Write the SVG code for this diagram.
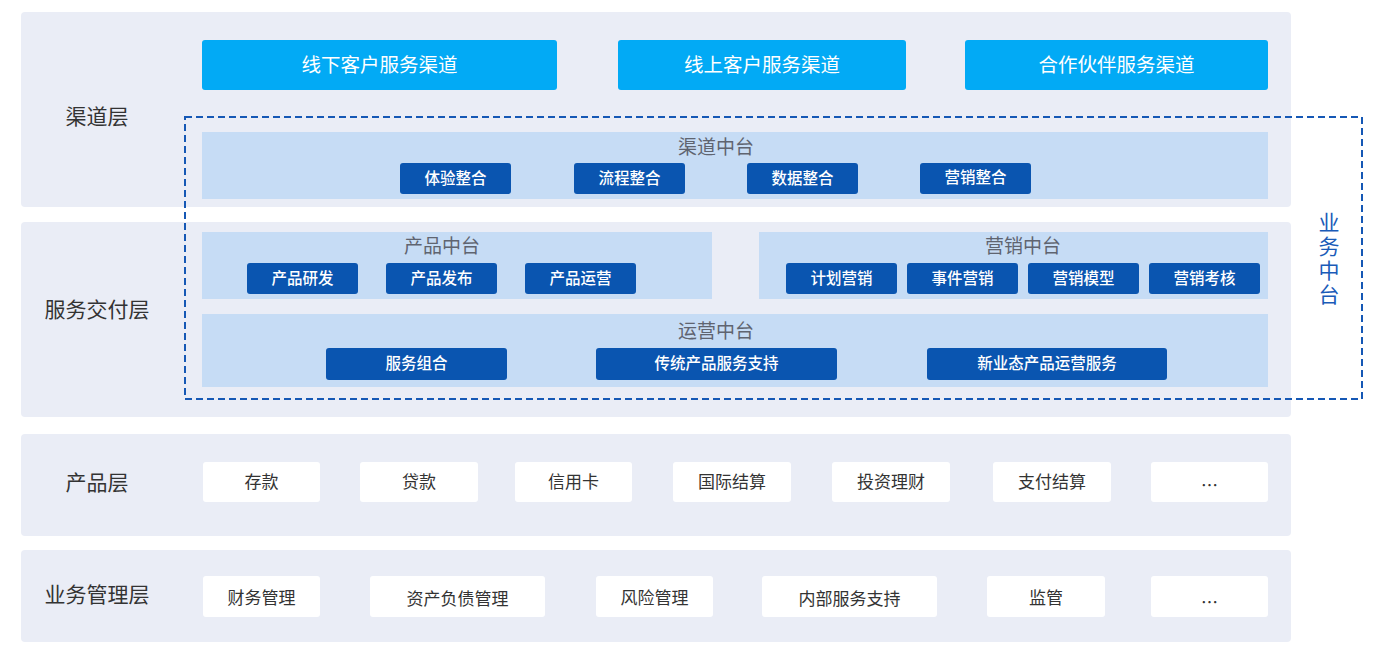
<svg xmlns="http://www.w3.org/2000/svg" width="1385" height="665" viewBox="0 0 1385 665">
<style>
text{font-family:"Noto Sans CJK SC","Noto Sans",sans-serif;text-anchor:middle;dominant-baseline:central}
.layer{fill:#EAEDF6}
.lbl{font-size:21px;fill:#333}
.chan{fill:#02AAF5}
.chant{font-size:19.5px;fill:#fff}
.panel{fill:#C6DCF5}
.ptitle{font-size:19px;fill:#5f6470}
.sub{fill:#0A55B0}
.subt{font-size:15.5px;fill:#fff;font-weight:500}
.card{fill:#fff}
.cardt{font-size:17px;fill:#333}
.vt{font-size:21px;fill:#1A5BB8}
</style>
<rect width="1385" height="665" fill="#fff"/>
<g id="layer-channel">
<rect class="layer" x="21" y="12" width="1270" height="195" rx="4"/>
<text class="lbl" x="97" y="115">渠道层</text>
</g>
<g id="layer-service">
<rect class="layer" x="21" y="222" width="1270" height="195" rx="4"/>
<text class="lbl" x="97" y="308">服务交付层</text>
</g>
<g id="layer-product">
<rect class="layer" x="21" y="434" width="1270" height="102" rx="4"/>
<text class="lbl" x="97" y="481">产品层</text>
</g>
<g id="layer-mgmt">
<rect class="layer" x="21" y="550" width="1270" height="92" rx="4"/>
<text class="lbl" x="97" y="593">业务管理层</text>
</g>
<g id="ch-offline"><rect class="chan" x="202" y="40" width="355" height="50" rx="3"/><text class="chant" x="379.5" y="63">线下客户服务渠道</text></g>
<g id="ch-online"><rect class="chan" x="618" y="40" width="288" height="50" rx="3"/><text class="chant" x="762" y="63">线上客户服务渠道</text></g>
<g id="ch-partner"><rect class="chan" x="965" y="40" width="303" height="50" rx="3"/><text class="chant" x="1116.5" y="63">合作伙伴服务渠道</text></g>

<g id="channel-mid">
<rect class="panel" x="202" y="132" width="1066" height="67"/>
<text class="ptitle" x="716" y="145">渠道中台</text>
</g>
<g id="cm1"><rect class="sub" x="400" y="163" width="111" height="31" rx="3"/><text class="subt" x="455.5" y="177">体验整合</text></g>
<g id="cm2"><rect class="sub" x="574" y="163" width="111" height="31" rx="3"/><text class="subt" x="629.5" y="177">流程整合</text></g>
<g id="cm3"><rect class="sub" x="747" y="163" width="111" height="31" rx="3"/><text class="subt" x="802.5" y="177">数据整合</text></g>
<g id="cm4"><rect class="sub" x="920" y="163" width="111" height="31" rx="3"/><text class="subt" x="975.5" y="176">营销整合</text></g>

<g id="product-mid">
<rect class="panel" x="202" y="232" width="510" height="67"/>
<text class="ptitle" x="442" y="244">产品中台</text>
</g>
<g id="pm1"><rect class="sub" x="247" y="263" width="111" height="31" rx="3"/><text class="subt" x="302.5" y="277">产品研发</text></g>
<g id="pm2"><rect class="sub" x="386" y="263" width="111" height="31" rx="3"/><text class="subt" x="441.5" y="277">产品发布</text></g>
<g id="pm3"><rect class="sub" x="525" y="263" width="111" height="31" rx="3"/><text class="subt" x="580.5" y="277">产品运营</text></g>

<g id="marketing-mid">
<rect class="panel" x="759" y="232" width="509" height="67"/>
<text class="ptitle" x="1023" y="244">营销中台</text>
</g>
<g id="mm1"><rect class="sub" x="786" y="263" width="111" height="31" rx="3"/><text class="subt" x="841.5" y="277">计划营销</text></g>
<g id="mm2"><rect class="sub" x="907" y="263" width="111" height="31" rx="3"/><text class="subt" x="962.5" y="277">事件营销</text></g>
<g id="mm3"><rect class="sub" x="1028" y="263" width="111" height="31" rx="3"/><text class="subt" x="1083.5" y="277">营销模型</text></g>
<g id="mm4"><rect class="sub" x="1149" y="263" width="111" height="31" rx="3"/><text class="subt" x="1204.5" y="277">营销考核</text></g>

<g id="ops-mid">
<rect class="panel" x="202" y="314" width="1066" height="73"/>
<text class="ptitle" x="716" y="329">运营中台</text>
</g>
<g id="om1"><rect class="sub" x="326" y="348" width="181" height="32" rx="3"/><text class="subt" x="416.5" y="362">服务组合</text></g>
<g id="om2"><rect class="sub" x="596" y="348" width="241" height="32" rx="3"/><text class="subt" x="716.5" y="362">传统产品服务支持</text></g>
<g id="om3"><rect class="sub" x="927" y="348" width="240" height="32" rx="3"/><text class="subt" x="1047" y="362">新业态产品运营服务</text></g>

<g id="biz-mid">
<rect x="185" y="117" width="1177" height="282" fill="none" stroke="#1558B5" stroke-width="2" stroke-dasharray="7 4"/>
<text class="vt" x="1329" y="260" writing-mode="vertical-rl" letter-spacing="3">业务中台</text>
</g>

<g id="p1"><rect class="card" x="203" y="462" width="117" height="40" rx="3"/><text class="cardt" x="261.5" y="480">存款</text></g>
<g id="p2"><rect class="card" x="360" y="462" width="118" height="40" rx="3"/><text class="cardt" x="419" y="480">贷款</text></g>
<g id="p3"><rect class="card" x="515" y="462" width="117" height="40" rx="3"/><text class="cardt" x="573.5" y="480">信用卡</text></g>
<g id="p4"><rect class="card" x="673" y="462" width="118" height="40" rx="3"/><text class="cardt" x="732" y="480">国际结算</text></g>
<g id="p5"><rect class="card" x="832" y="462" width="118" height="40" rx="3"/><text class="cardt" x="891" y="480">投资理财</text></g>
<g id="p6"><rect class="card" x="993" y="462" width="118" height="40" rx="3"/><text class="cardt" x="1052" y="480">支付结算</text></g>
<g id="p7"><rect class="card" x="1151" y="462" width="117" height="40" rx="3"/><text class="cardt" x="1209.5" y="484">…</text></g>

<g id="m1"><rect class="card" x="203" y="576" width="117" height="41" rx="3"/><text class="cardt" x="261.5" y="596">财务管理</text></g>
<g id="m2"><rect class="card" x="370" y="576" width="175" height="41" rx="3"/><text class="cardt" x="457.5" y="597">资产负债管理</text></g>
<g id="m3"><rect class="card" x="596" y="576" width="117" height="41" rx="3"/><text class="cardt" x="654.5" y="596">风险管理</text></g>
<g id="m4"><rect class="card" x="762" y="576" width="175" height="41" rx="3"/><text class="cardt" x="849.5" y="597">内部服务支持</text></g>
<g id="m5"><rect class="card" x="987" y="576" width="118" height="41" rx="3"/><text class="cardt" x="1046" y="596">监管</text></g>
<g id="m6"><rect class="card" x="1151" y="576" width="117" height="41" rx="3"/><text class="cardt" x="1209.5" y="601">…</text></g>
<g id="connectors"></g>
</svg>
